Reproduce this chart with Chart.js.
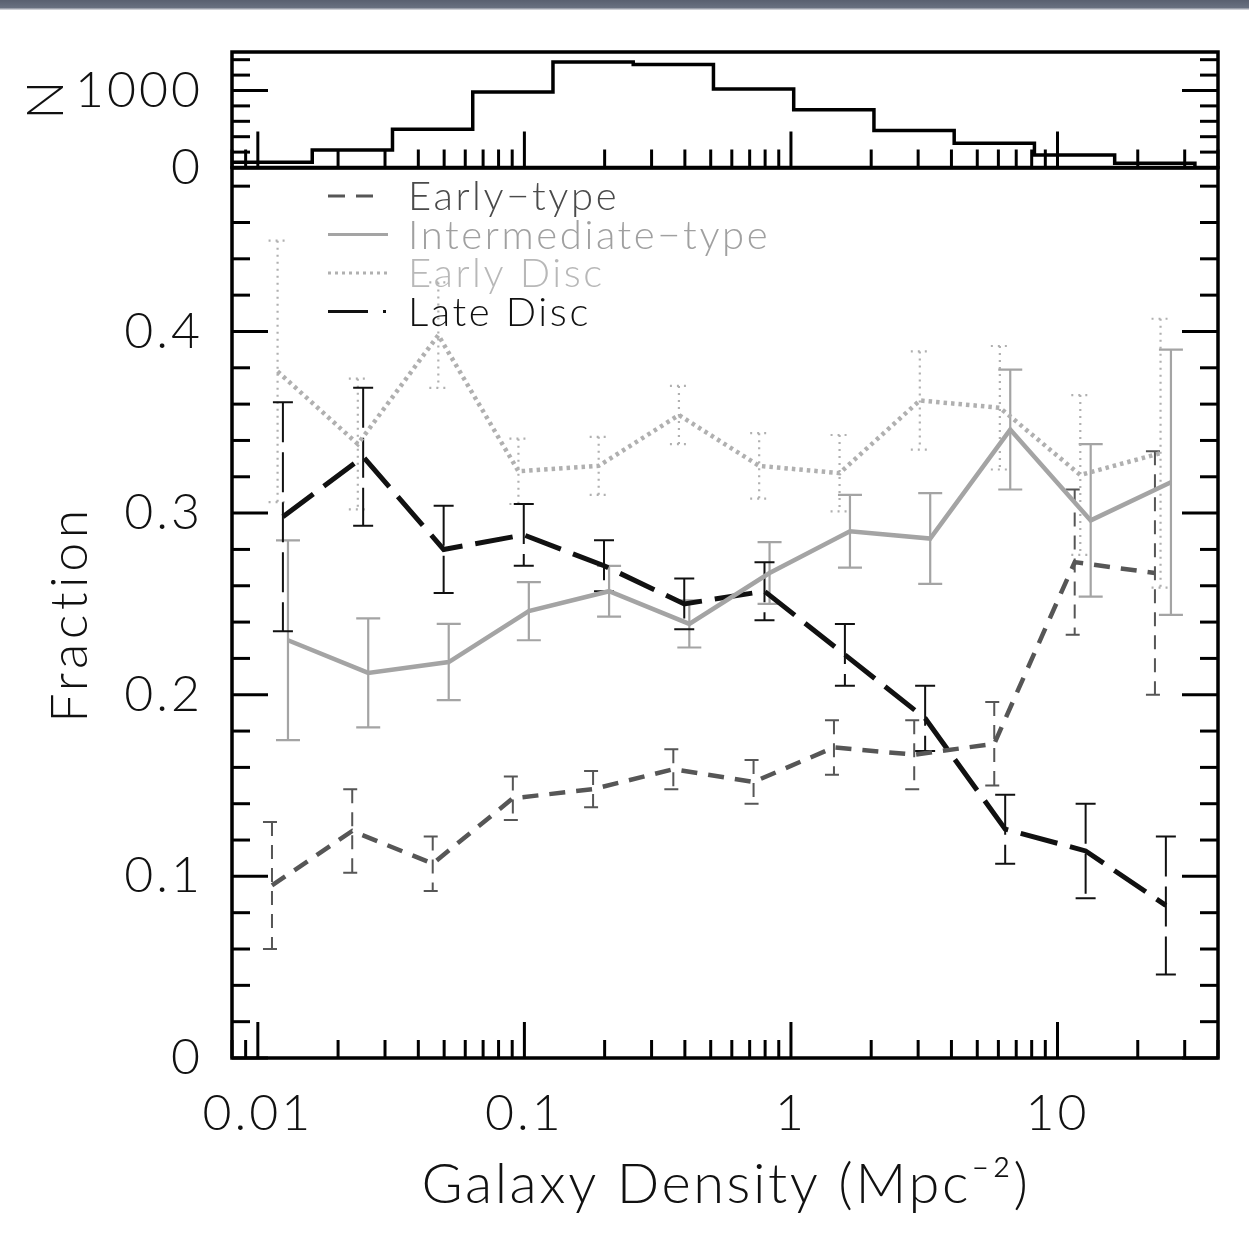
<!DOCTYPE html>
<html>
<head>
<meta charset="utf-8">
<title>Morphology fractions vs galaxy density</title>
<script src="https://cdn.jsdelivr.net/npm/chart.js@4.4.0/dist/chart.umd.min.js"></script>
<style>
  html, body { margin: 0; padding: 0; background: #fff; }
  #wrap { position: relative; width: 1249px; height: 1233px; overflow: hidden; background: #fff; }
  #wrap canvas { position: absolute; left: 0; top: 0; }
  #strip { position: absolute; left: 0; top: 0; width: 1249px; height: 10px;
           background: linear-gradient(#596070, #687080 75%, #e6e7ea); }
</style>
</head>
<body>
<div id="wrap">
  <canvas id="hist" width="1249" height="1233"></canvas>
  <canvas id="frac" width="1249" height="1233"></canvas>
  <div id="strip"></div>
</div>
<script>
// density bins in Mpc^-2, each a factor of two wide
const binEdges = [0.008, 0.016, 0.032, 0.064, 0.128, 0.256, 0.512, 1.024, 2.048, 4.096, 8.192, 16.384, 32.768];
const binCounts = [68, 228, 497, 979, 1370, 1339, 1018, 749, 479, 315, 163, 55];
const binCenters = [0.0113, 0.0226, 0.0453, 0.0905, 0.181, 0.362, 0.724, 1.45, 2.90, 5.79, 11.6, 23.2];

// morphological fractions per bin, with 1-sigma errors
const earlyType       = [0.095, 0.125, 0.107, 0.143, 0.148, 0.159, 0.152, 0.171, 0.167, 0.173, 0.273, 0.267];
const earlyTypeErr    = [0.035, 0.023, 0.015, 0.012, 0.010, 0.011, 0.012, 0.015, 0.019, 0.023, 0.040, 0.067];
const intermediate    = [0.230, 0.212, 0.218, 0.246, 0.257, 0.239, 0.267, 0.290, 0.286, 0.346, 0.296, 0.317];
const intermediateErr = [0.055, 0.030, 0.021, 0.016, 0.014, 0.013, 0.017, 0.020, 0.025, 0.033, 0.042, 0.073];
const earlyDisc       = [0.378, 0.338, 0.398, 0.323, 0.326, 0.354, 0.326, 0.322, 0.362, 0.358, 0.321, 0.333];
const earlyDiscErr    = [0.072, 0.036, 0.029, 0.018, 0.016, 0.016, 0.018, 0.021, 0.027, 0.034, 0.044, 0.074];
const lateDisc        = [0.298, 0.331, 0.280, 0.288, 0.271, 0.250, 0.257, 0.222, 0.187, 0.126, 0.114, 0.084];
const lateDiscErr     = [0.063, 0.038, 0.024, 0.017, 0.014, 0.014, 0.016, 0.017, 0.018, 0.019, 0.026, 0.038];

// labelled ticks
const densityLabels = [0.01, 0.1, 1, 10];
const fractionLabels = [0, 0.1, 0.2, 0.3, 0.4];
const countLabels = [0, 1000];

const FONT = 'Lato, "DejaVu Sans", sans-serif';
const INK = '#111';

// small shifts (in dex) so the error bars of the four classes don't sit on top of each other
const shift = { early: 0, earlyDisc: 0.021, late: 0.041, inter: 0.060 };

function points(vals, dex) {
  return vals.map((v, i) => ({ x: binCenters[i] * Math.pow(10, dex), y: v }));
}

function logTicks(min, max) {
  const out = [];
  for (let d = -3; d <= 2; d++) {
    for (let m = 1; m <= 9; m++) {
      const v = Number((m * Math.pow(10, d)).toPrecision(3));
      if (v >= min && v <= max) out.push(v);
    }
  }
  return out;
}

function stepTicks(max, step) {
  const out = [];
  for (let i = 0; i * step <= max + 1e-9; i++) out.push(Number((i * step).toFixed(4)));
  return out;
}

function seg(ctx, x0, y0, x1, y1) {
  ctx.beginPath();
  ctx.moveTo(x0, y0);
  ctx.lineTo(x1, y1);
  ctx.stroke();
}

function text(ctx, str, x, y, size, spacing, angle) {
  ctx.save();
  ctx.fillStyle = INK;
  ctx.textAlign = 'center';
  ctx.textBaseline = 'middle';
  ctx.font = '300 ' + size + 'px ' + FONT;
  ctx.letterSpacing = spacing + 'px';
  ctx.translate(x, y);
  if (angle) ctx.rotate(angle);
  ctx.fillText(str, 0, 0);
  ctx.restore();
}

// wider letter spacing for the tick numbers only (scales are drawn before datasets)
const spacedTicks = {
  id: 'spacedTicks',
  beforeDraw(chart) { chart.ctx.letterSpacing = '3px'; },
  beforeDatasetsDraw(chart) { chart.ctx.letterSpacing = '0px'; }
};

// IDL-style box: thick frame, ticks pointing inward
const framePlugin = {
  id: 'frame',
  afterDraw(chart, args, opts) {
    const { ctx, chartArea: a } = chart;
    const xs = chart.scales.x, ys = chart.scales.y;
    ctx.save();
    ctx.strokeStyle = '#000';
    ctx.lineWidth = 3;
    ys.ticks.forEach(t => {
      const py = ys.getPixelForValue(t.value);
      const len = opts.yMajor.includes(t.value) ? 36 : 18;
      seg(ctx, a.left, py, a.left + len, py);
      seg(ctx, a.right, py, a.right - len, py);
    });
    xs.ticks.forEach(t => {
      const px = xs.getPixelForValue(t.value);
      const len = densityLabels.includes(t.value) ? 36 : 18;
      seg(ctx, px, a.bottom, px, a.bottom - len);
    });
    ctx.lineWidth = 3.5;
    ctx.strokeRect(a.left, a.top, a.right - a.left, a.bottom - a.top);
    ctx.restore();
  }
};

// vertical error bars with caps, drawn in each dataset's own line style
const errorBarPlugin = {
  id: 'errorBars',
  beforeDatasetsDraw(chart) {
    const { ctx, chartArea: a } = chart;
    const xs = chart.scales.x, ys = chart.scales.y;
    ctx.save();
    ctx.beginPath();
    ctx.rect(a.left, a.top, a.right - a.left, a.bottom - a.top);
    ctx.clip();
    chart.data.datasets.forEach(ds => {
      if (!ds.errors) return;
      ctx.strokeStyle = ds.borderColor;
      ctx.lineWidth = ds.errWidth;
      ds.data.forEach((p, i) => {
        const e = ds.errors[i];
        const px = xs.getPixelForValue(p.x);
        const top = ys.getPixelForValue(p.y + e);
        const bot = ys.getPixelForValue(p.y - e);
        const c = ds.capHalf;
        ctx.setLineDash(ds.errDash);
        ctx.beginPath();
        ctx.moveTo(px - c, top);
        ctx.lineTo(px + c, top);
        ctx.moveTo(px, top);
        ctx.lineTo(px, bot);
        ctx.moveTo(px - c, bot);
        ctx.lineTo(px + c, bot);
        ctx.stroke();
      });
    });
    ctx.restore();
  }
};

// key in the upper left of the fraction panel
const keyPlugin = {
  id: 'key',
  afterDatasetsDraw(chart, args, opts) {
    const { ctx } = chart;
    chart.data.datasets.forEach((ds, i) => {
      const y = opts.top + i * opts.gap;
      ctx.save();
      ctx.strokeStyle = ds.borderColor;
      ctx.lineWidth = 3;
      ctx.setLineDash(ds.keyDash);
      seg(ctx, opts.x, y, opts.x + ds.keyLength, y);
      ctx.setLineDash([]);
      ctx.fillStyle = ds.textColor;
      ctx.font = '300 40px ' + FONT;
      ctx.letterSpacing = '2.6px';
      ctx.textBaseline = 'alphabetic';
      ctx.fillText(ds.label, opts.textX, y + 14);
      ctx.restore();
    });
  }
};

// axis titles
const titlePlugin = {
  id: 'titles',
  afterDraw(chart) {
    const { ctx } = chart;
    text(ctx, 'Galaxy Density (Mpc\u207B\u00B2)', 726, 1185, 56, 2.6, 0);
    text(ctx, 'Fraction', 70, 614, 52, 4.5, -Math.PI / 2);
    text(ctx, 'N', 46, 100, 52, 0, -Math.PI / 2);
  }
};

const X_MIN = 0.008, X_MAX = 40;
const tickFont = { family: FONT, size: 50, weight: '300' };

const densityAxis = (showLabels, height) => ({
  type: 'logarithmic',
  min: X_MIN,
  max: X_MAX,
  grid: { display: false, drawTicks: false },
  border: { display: false },
  afterBuildTicks: s => { s.ticks = logTicks(X_MIN, X_MAX).map(v => ({ value: v })); },
  afterFit: s => { s.height = height; s.paddingLeft = 0; s.paddingRight = 0; },
  ticks: {
    display: showLabels,
    autoSkip: false,
    maxRotation: 0,
    padding: 26,
    color: INK,
    font: tickFont,
    callback: v => densityLabels.includes(v) ? String(v) : ''
  }
});

const fixedY = s => { s.width = 232; s.paddingTop = 0; s.paddingBottom = 0; };

// number of galaxies per density bin
new Chart(document.getElementById('hist'), {
  type: 'line',
  data: {
    datasets: [{
      label: 'N',
      data: binEdges.map((e, i) => ({ x: e, y: i < binCounts.length ? binCounts[i] : 0 })),
      stepped: 'before',
      borderColor: '#000',
      borderWidth: 3.5,
      pointRadius: 0,
      fill: false
    }]
  },
  options: {
    responsive: false,
    animation: false,
    layout: { padding: { top: 52, right: 31, left: 0, bottom: 0 } },
    plugins: { legend: { display: false }, tooltip: { enabled: false }, frame: { yMajor: countLabels } },
    scales: {
      x: densityAxis(false, 1233 - 167.5),
      y: {
        min: 0,
        max: 1500,
        grid: { display: false, drawTicks: false },
        border: { display: false },
        afterBuildTicks: s => { s.ticks = stepTicks(1400, 200).map(v => ({ value: v })); },
        afterFit: fixedY,
        ticks: {
          autoSkip: false,
          padding: 29,
          color: INK,
          font: tickFont,
          callback: v => countLabels.includes(v) ? String(v) : ''
        }
      }
    }
  },
  plugins: [spacedTicks, framePlugin]
});

// fraction of each morphological class against local density
new Chart(document.getElementById('frac'), {
  type: 'line',
  data: {
    datasets: [
      {
        label: 'Early\u2212type',
        data: points(earlyType, shift.early),
        errors: earlyTypeErr,
        borderColor: '#565656',
        textColor: '#4a4a4a',
        borderWidth: 4.5,
        borderDash: [16, 11],
        errDash: [14, 9],
        errWidth: 2,
        capHalf: 9,
        keyDash: [17, 11],
        keyLength: 46
      },
      {
        label: 'Intermediate\u2212type',
        data: points(intermediate, shift.inter),
        errors: intermediateErr,
        borderColor: '#a4a4a4',
        textColor: '#a0a0a0',
        borderWidth: 4.5,
        borderDash: [],
        errDash: [],
        errWidth: 2.2,
        capHalf: 12,
        keyDash: [],
        keyLength: 60
      },
      {
        label: 'Early Disc',
        data: points(earlyDisc, shift.earlyDisc),
        errors: earlyDiscErr,
        borderColor: '#b0b0b0',
        textColor: '#b8b8b8',
        borderWidth: 4.5,
        borderDash: [3.5, 4],
        errDash: [2, 5],
        errWidth: 2.2,
        capHalf: 9,
        keyDash: [3, 4],
        keyLength: 60
      },
      {
        label: 'Late Disc',
        data: points(lateDisc, shift.late),
        errors: lateDiscErr,
        borderColor: '#111111',
        textColor: '#111111',
        borderWidth: 5,
        borderDash: [38, 13],
        errDash: [40, 10],
        errWidth: 2,
        capHalf: 10,
        keyDash: [40, 15, 3, 100],
        keyLength: 60
      }
    ]
  },
  options: {
    responsive: false,
    animation: false,
    layout: { padding: { top: 168, right: 31, left: 0, bottom: 0 } },
    elements: { line: { tension: 0, fill: false }, point: { radius: 0 } },
    plugins: {
      legend: { display: false },
      tooltip: { enabled: false },
      frame: { yMajor: fractionLabels },
      key: { x: 328, textX: 408, top: 196, gap: 38.5 }
    },
    scales: {
      x: densityAxis(true, 1233 - 1058),
      y: {
        min: 0,
        max: 0.49,
        grid: { display: false, drawTicks: false },
        border: { display: false },
        afterBuildTicks: s => { s.ticks = stepTicks(0.48, 0.02).map(v => ({ value: v })); },
        afterFit: fixedY,
        ticks: {
          autoSkip: false,
          padding: 29,
          color: INK,
          font: tickFont,
          callback: v => fractionLabels.includes(v) ? String(v) : ''
        }
      }
    }
  },
  plugins: [spacedTicks, errorBarPlugin, keyPlugin, framePlugin, titlePlugin]
});
</script>
</body>
</html>
